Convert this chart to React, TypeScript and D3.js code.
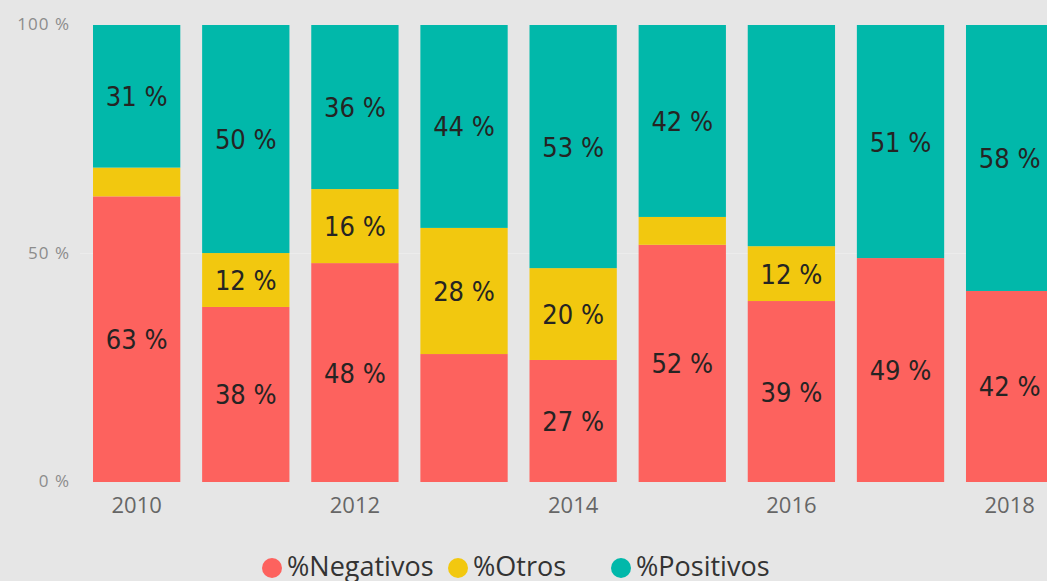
import { useEffect, useRef } from "react";
import * as d3 from "d3";

const years = ["2010", "2011", "2012", "2013", "2014", "2015", "2016", "2017", "2018"];
const negativos = [62.5, 38.3, 47.9, 28, 26.7, 51.9, 39.6, 49, 41.8];
const otros = [6.3, 11.8, 16.2, 27.6, 20.1, 6.1, 12, 0, 0];
const positivos = [31.2, 49.9, 35.9, 44.4, 53.2, 42, 48.4, 51, 58.2];
const negLabels = ["63 %", "38 %", "48 %", "", "27 %", "52 %", "39 %", "49 %", "42 %"];
const otrosLabels = ["", "12 %", "16 %", "28 %", "20 %", "", "12 %", "", ""];
const posLabels = ["31 %", "50 %", "36 %", "44 %", "53 %", "42 %", "", "51 %", "58 %"];
const yTicks = [0, 50, 100];
const xTickYears = ["2010", "2012", "2014", "2016", "2018"];
const seriesNames = ["%Negativos", "%Otros", "%Positivos"];

const colors = ["#fd625e", "#f2c80f", "#01b8aa"];

export default function App() {
  const ref = useRef<SVGSVGElement>(null);

  useEffect(() => {
    if (!ref.current) return;
    const width = 1047;
    const height = 581;
    const svg = d3.select(ref.current);
    svg.selectAll("*").remove();

    svg.append("rect").attr("width", width).attr("height", height).attr("fill", "#e6e6e6");

    const x = d3.scaleBand<string>().domain(years).range([82.1, 1064.2]).paddingInner(0.2).paddingOuter(0.1);
    const y = d3.scaleLinear().domain([0, 100]).range([482, 25]);

    // faint gridline
    svg.append("line")
      .attr("x1", 80).attr("x2", width)
      .attr("y1", y(50)).attr("y2", y(50))
      .attr("stroke", "#ececec").attr("stroke-width", 1);

    const rows = years.map((yr, i) => ({
      year: yr,
      neg: negativos[i],
      otros: otros[i],
      pos: positivos[i],
    }));
    const stack = d3.stack<any>().keys(["neg", "otros", "pos"]);
    const series = stack(rows);
    const labelSets = [negLabels, otrosLabels, posLabels];

    series.forEach((s, si) => {
      const g = svg.append("g");
      g.selectAll("rect")
        .data(s)
        .enter()
        .append("rect")
        .attr("x", (d) => x(d.data.year)!)
        .attr("width", x.bandwidth())
        .attr("y", (d) => y(d[1]))
        .attr("height", (d) => y(d[0]) - y(d[1]))
        .attr("fill", colors[si]);

      g.selectAll("text")
        .data(s)
        .enter()
        .append("text")
        .attr("x", (d) => x(d.data.year)! + x.bandwidth() / 2)
        .attr("y", (d) => (y(d[0]) + y(d[1])) / 2 + 10)
        .attr("text-anchor", "middle")
        .attr("font-family", "'DejaVu Sans Condensed', 'DejaVu Sans', sans-serif")
        .attr("font-size", 27)
        .attr("fill", "#252423")
        .text((d, i) => labelSets[si][i]);
    });

    // y axis labels
    svg.append("g").selectAll("text")
      .data(yTicks)
      .enter()
      .append("text")
      .attr("x", 70)
      .attr("y", (d) => y(d) + 5)
      .attr("text-anchor", "end")
      .attr("font-family", "'Open Sans', sans-serif")
      .attr("font-size", 17)
      .attr("letter-spacing", 1)
      .attr("fill", "#8c8c8c")
      .text((d) => `${d} %`);

    // x axis labels
    svg.append("g").selectAll("text")
      .data(xTickYears)
      .enter()
      .append("text")
      .attr("x", (d) => x(d)! + x.bandwidth() / 2)
      .attr("y", 513)
      .attr("text-anchor", "middle")
      .attr("font-family", "'Open Sans', sans-serif")
      .attr("font-size", 22)
      .attr("fill", "#666666")
      .text((d) => d);

    // legend
    const legendX = [272, 458, 621];
    const legend = svg.append("g");
    seriesNames.forEach((name, i) => {
      legend.append("circle")
        .attr("cx", legendX[i])
        .attr("cy", 568)
        .attr("r", 10)
        .attr("fill", colors[i]);
      legend.append("text")
        .attr("x", legendX[i] + 15)
        .attr("y", 576)
        .attr("font-family", "'Open Sans', sans-serif")
        .attr("font-size", 27)
        .attr("fill", "#333333")
        .text(name);
    });
  }, []);

  return (
    <svg
      ref={ref}
      width={1047}
      height={581}
      style={{ position: "absolute", left: 0, top: 0, display: "block" }}
    />
  );
}
